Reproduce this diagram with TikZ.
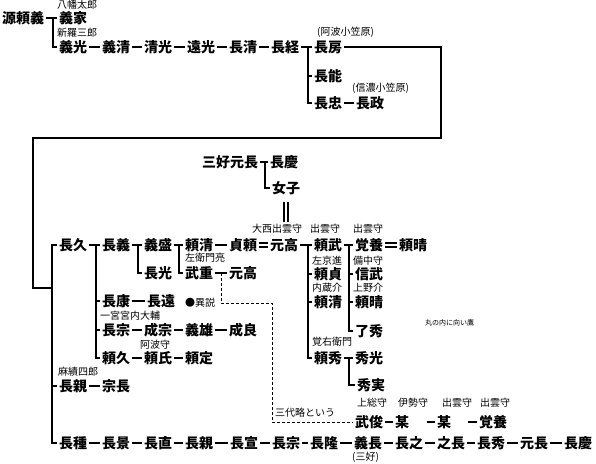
\documentclass[tikz,border=0pt]{standalone}
\usepackage{fontspec}
\setmainfont{Noto Sans CJK JP}
\usetikzlibrary{calc}

\tikzset{
  nm/.style={anchor=west, inner sep=0pt, outer sep=2pt, font=\fontsize{14}{14}\selectfont\bfseries},
  note/.style={anchor=west, inner sep=0pt, font=\fontsize{10}{10}\selectfont},
  link/.style={line width=2.2pt},
  tree/.style={line width=2.4pt, line join=miter},
  wed/.style={double, double distance=2.5pt, line width=1.3pt},
  guess/.style={line width=1pt, dash pattern=on 3pt off 2pt}
}

\begin{document}
\begin{tikzpicture}[x=1pt, y=-1pt]
  \useasboundingbox (0,0) rectangle (596,463);
  % Top rows
  \node[nm] (yoriyoshi) at (0,18) {源頼義};
  \node[nm] (yoshiie) at (57,18) {義家};
  \foreach \n/\x/\t in {yoshimitsu/57/義光, yoshikiyo/100/義清, kiyomitsu/142/清光,
      tomomitsu/185/遠光, nagakiyo/227/長清, nagatsune/269/長経, nagafusa/312/長房} {
    \node[nm] (\n) at (\x,47) {\t};
  }
  \node[nm] (naganori) at (312,76) {長能};
  \node[nm] (nagatada) at (312,103) {長忠};
  \node[nm] (nagamasa) at (354,103) {長政};
  % Miyoshi
  \node[nm] (miyoshi) at (200,162) {三好元長};
  \node[nm] (nagayoshi) at (268,162) {長慶};
  \node[nm] (nyoshi) at (270,188) {女子};
  % Middle rows
  \foreach \n/\x/\t in {nagahisa/57/長久, nagayoshi2/100/長義, yoshimori/142/義盛,
      yorikiyo/183/頼清, sadayori/227/貞頼, mototaka/268/元高, yoritake/312/頼武,
      kakuyo/353/覚養, yoriharu/397/頼晴} {
    \node[nm] (\n) at (\x,245) {\t};
  }
  \node[nm] (nagamitsu) at (142,273) {長光};
  \node[nm] (takeshige) at (183,273) {武重};
  \node[nm] (mototaka2) at (227,273) {元高};
  \node[nm] (yorisada) at (312,274) {頼貞};
  \node[nm] (nobutake) at (353,274) {信武};
  \node[nm] (nagayasu) at (100,301) {長康};
  \node[nm] (nagato) at (145,301) {長遠};
  \node[nm] (yorikiyo2) at (312,302) {頼清};
  \node[nm] (yoriharu2) at (353,302) {頼晴};
  \foreach \n/\x/\t in {nagamune/100/長宗, narimune/142/成宗, yoshio/183/義雄,
      naritaka/227/成良} {
    \node[nm] (\n) at (\x,330) {\t};
  }
  \node[nm] (ryoshu) at (353,331) {了秀};
  \foreach \n/\x/\t in {yorihisa/100/頼久, yoriuji/142/頼氏, yorisada2/183/頼定,
      yorihide/312/頼秀, hidemitsu/353/秀光} {
    \node[nm] (\n) at (\x,358) {\t};
  }
  \node[nm] (nagachika) at (57,386) {長親};
  \node[nm] (munenaga) at (100,386) {宗長};
  \node[nm] (hidezane) at (355,385) {秀実};
  \foreach \n/\x/\t in {taketoshi/353/武俊, bo1/393/某, bo2/435/某, kakuyo2/477/覚養} {
    \node[nm] (\n) at (\x,422) {\t};
  }
  % Bottom row
  \foreach \n/\x/\t in {nagatane/57/長種, nagakage/100/長景, naganao/142/長直,
      nagachika2/183/長親, naganobu/228/長宣, nagamune2/270/長宗, nagataka/308/長隆,
      yoshinaga/352/義長, nagayuki/393/長之, yukinaga/435/之長, nagahide/475/長秀,
      motonaga/518/元長, nagayoshi3/562/長慶} {
    \node[nm] (\n) at (\x,443) {\t};
  }
  % Small notes
  \node[note] at (57,5) {八幡太郎};
  \node[note] at (57,33) {新羅三郎};
  \node[note] at (317,32) {(阿波小笠原)};
  \node[note] at (352,88) {(信濃小笠原)};
  \node[note] (oonishi) at (252,229) {大西出雲守};
  \node[note] at (310,229) {出雲守};
  \node[note] at (353,229) {出雲守};
  \node[note] at (185,258) {左衛門亮};
  \node[note] at (312,261) {左京進};
  \node[note] at (353,261) {備中守};
  \node[note] at (312,288) {内蔵介};
  \node[note] at (353,288) {上野介};
  \node[note] (isetsu) at (185,303) {●異説};
  \node[note] at (100,316) {一宮宮内大輔};
  \node[note] at (425,323) {\fontsize{7}{7}\selectfont 丸の内に向い鷹};
  \node[note] at (312,342) {覚右衛門};
  \node[note] at (140,345) {阿波守};
  \node[note] at (58,372) {麻績四郎};
  \node[note] at (357,403) {上総守};
  \node[note] at (398,403) {伊勢守};
  \node[note] at (442,403) {出雲守};
  \node[note] at (480,403) {出雲守};
  \node[note] at (275,413) {三代略という};
  \node[note] at (352,457) {(三好)};
  % Single descents
  \foreach \a/\b in {yoshimitsu/yoshikiyo, yoshikiyo/kiyomitsu, kiyomitsu/tomomitsu,
      tomomitsu/nagakiyo, nagakiyo/nagatsune, nagatada/nagamasa, yorikiyo/sadayori,
      nagayasu/nagato, nagamune/narimune, narimune/yoshio, yoshio/naritaka,
      yorihisa/yoriuji, yoriuji/yorisada2, nagachika/munenaga, taketoshi/bo1,
      nagatane/nagakage, nagakage/naganao, naganao/nagachika2, nagachika2/naganobu,
      naganobu/nagamune2, nagamune2/nagataka, nagataka/yoshinaga, yoshinaga/nagayuki,
      nagayuki/yukinaga, yukinaga/nagahide, nagahide/motonaga, motonaga/nagayoshi3} {
    \draw[link] (\a) -- (\b);
  }
  \draw[link, shorten <=16pt] (bo1) -- (bo2);
  \draw[link, shorten <=15pt] (bo2) -- (kakuyo2);
  % Adoptions
  \draw[wed] (sadayori) -- (mototaka);
  \draw[wed] (kakuyo) -- (yoriharu);
  \draw[wed, shorten <=5pt, shorten >=2pt] (nyoshi.south) -- (nyoshi.south |- oonishi.north);
  % Brackets
  \draw[tree] (yoriyoshi) -- (yoshiie);
  \coordinate (kA) at ([xshift=-4pt]yoshiie.west);
  \draw[tree] (kA) |- (yoshimitsu.west);
  \draw[tree] (nagatsune) -- (nagafusa);
  \coordinate (kB) at ([xshift=-4pt]nagafusa.west);
  \draw[tree] (kB) |- (nagatada.west);
  \draw[tree] (kB |- naganori.west) -- (naganori.west);
  \draw[tree] (miyoshi) -- (nagayoshi);
  \coordinate (kC) at ([xshift=-3pt]nagayoshi.west);
  \draw[tree] (kC) |- (nyoshi.west);
  \draw[tree] (nagahisa) -- (nagayoshi2);
  \coordinate (kD) at ([xshift=-4pt]nagayoshi2.west);
  \draw[tree] (kD) |- (yorihisa.west);
  \foreach \c in {nagayasu, nagamune} \draw[tree] (kD |- \c.west) -- (\c.west);
  \draw[tree] (nagayoshi2) -- (yoshimori);
  \coordinate (kE) at ([xshift=-4pt]yoshimori.west);
  \draw[tree] (kE) |- (nagamitsu.west);
  \draw[tree] (yoshimori) -- (yorikiyo);
  \coordinate (kF) at ([xshift=-4pt]yorikiyo.west);
  \draw[tree] (kF) |- (takeshige.west);
  \draw[tree] (mototaka) -- (yoritake);
  \coordinate (kG) at ([xshift=-4pt]yoritake.west);
  \draw[tree] (kG) |- (yorihide.west);
  \foreach \c in {yorisada, yorikiyo2} \draw[tree] (kG |- \c.west) -- (\c.west);
  \draw[tree] (yoritake) -- (kakuyo);
  \coordinate (kH) at ([xshift=-4pt]kakuyo.west);
  \draw[tree] (kH) |- (ryoshu.west);
  \foreach \c in {nobutake, yoriharu2} \draw[tree] (kH |- \c.west) -- (\c.west);
  \draw[tree] (yorihide) -- (hidemitsu);
  \coordinate (kI) at ([xshift=-4pt]hidemitsu.west);
  \draw[tree] (kI) |- (hidezane.west);
  \draw[tree] (takeshige) -- (mototaka2);
  % Long line from Nagafusa down to Nagahisa
  \coordinate (spine) at ([xshift=-5pt]nagahisa.west);
  \coordinate (loopR) at (441,138);
  \coordinate (loopL) at (33,288);
  \draw[tree] (nagafusa.east) -| (loopR) -| (loopL) -- (spine |- loopL);
  \draw[tree] (nagahisa.west) -- (spine) |- (nagatane.west);
  \draw[tree] (spine |- nagachika.west) -- (nagachika.west);
  % Other account
  \coordinate (ts) at ($(takeshige.east)!0.5!(mototaka2.west)$);
  \coordinate (dk) at (272,303);
  \draw[guess] (ts) |- (dk) |- (taketoshi.west);
\end{tikzpicture}
\end{document}
